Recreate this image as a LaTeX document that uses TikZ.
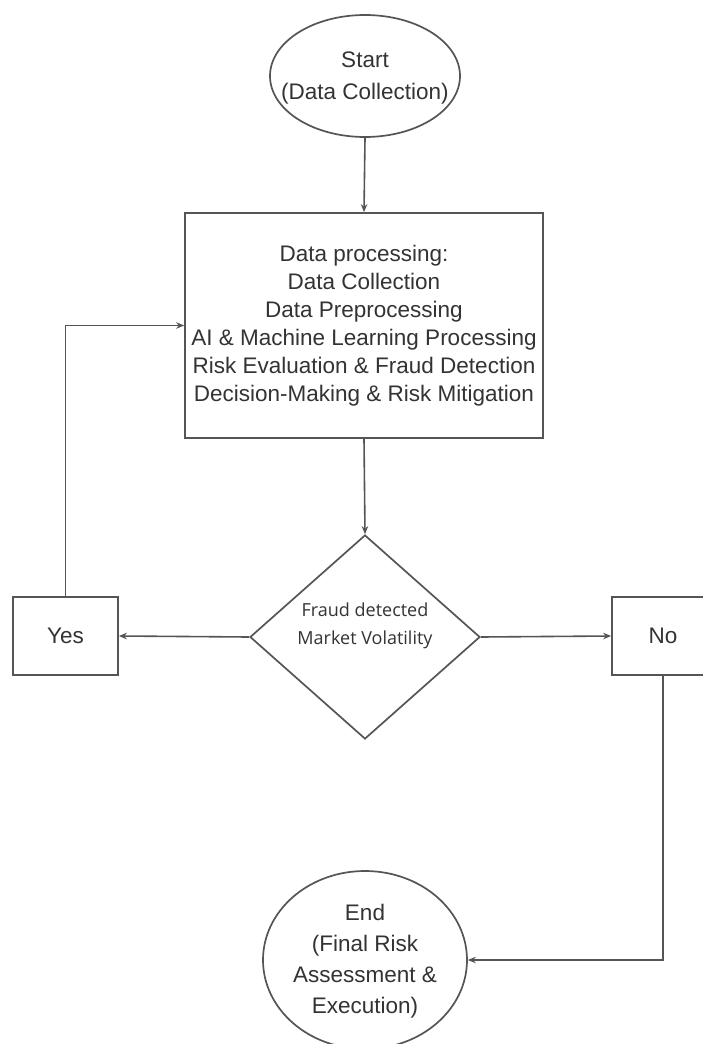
\documentclass[tikz,border=0pt]{standalone}
\usepackage{fontspec}
\setmainfont{Liberation Sans}
\newfontfamily\dfont{Open Sans}
\usetikzlibrary{shapes.geometric,arrows.meta}
\definecolor{lc}{HTML}{555555}
\definecolor{tc}{HTML}{333333}
\begin{document}
\begin{tikzpicture}[x=1pt,y=-1pt,
  shapeline/.style={draw=lc, line width=1.7pt, fill=white},
  flow/.style={draw=lc, line width=1.6pt, -{Stealth[length=8pt,width=6.5pt]}},
  txt/.style={text=tc, align=center, inner sep=0pt},
]
\useasboundingbox (0,0) rectangle (703,1044);
\fill[white] (0,0) rectangle (703,1044);
% start
\node[shapeline, ellipse, minimum width=190pt, minimum height=122pt, inner sep=0pt] (start) at (365,76) {};
\node[txt, font=\fontsize{22.5}{32}\selectfont] (starttxt) at (365,78) {Start\\(Data Collection)};
% processing box
\node[shapeline, rectangle, minimum width=358pt, minimum height=225pt, inner sep=0pt] (box) at (364,325.5) {};
\node[txt, font=\fontsize{22.5}{28}\selectfont] (boxtxt) at (box) {Data processing:\\Data Collection\\Data Preprocessing\\AI \& Machine Learning Processing\\Risk Evaluation \& Fraud Detection\\Decision-Making \& Risk Mitigation};
% decision
\node[shapeline, diamond, aspect=1.127, minimum width=230pt, minimum height=204pt, inner sep=0pt] (dec) at (365,637) {};
\node[txt, font=\dfont\fontsize{18}{28}\selectfont] (dectxt) at (365,626) {Fraud detected\\Market Volatility};
% yes / no
\node[shapeline, rectangle, minimum width=105pt, minimum height=78pt, inner sep=0pt] (yes) at (65.5,636) {};
\node[txt, font=\fontsize{22.5}{28}\selectfont] (yestxt) at (yes) {Yes};
\node[shapeline, rectangle, minimum width=102pt, minimum height=78pt, inner sep=0pt] (no) at (663,636) {};
\node[txt, font=\fontsize{22.5}{28}\selectfont] (notxt) at (no) {No};
% end
\node[shapeline, ellipse, minimum width=204pt, minimum height=178pt, inner sep=0pt] (end) at (365,960) {};
\node[txt, font=\fontsize{22.5}{31}\selectfont] (endtxt) at (365,961) {End\\(Final Risk\\Assessment \&\\Execution)};
% connectors
\draw[flow] (start.south) -- (box.north);
\draw[flow] (box.south) -- (dec.north);
\draw[flow] (dec.west) -- (yes.east);
\draw[flow] (dec.east) -- (no.west);
\draw[flow] (yes.north) |- (box.west);
\draw[flow] (no.south) |- (end.east);
\end{tikzpicture}
\end{document}
